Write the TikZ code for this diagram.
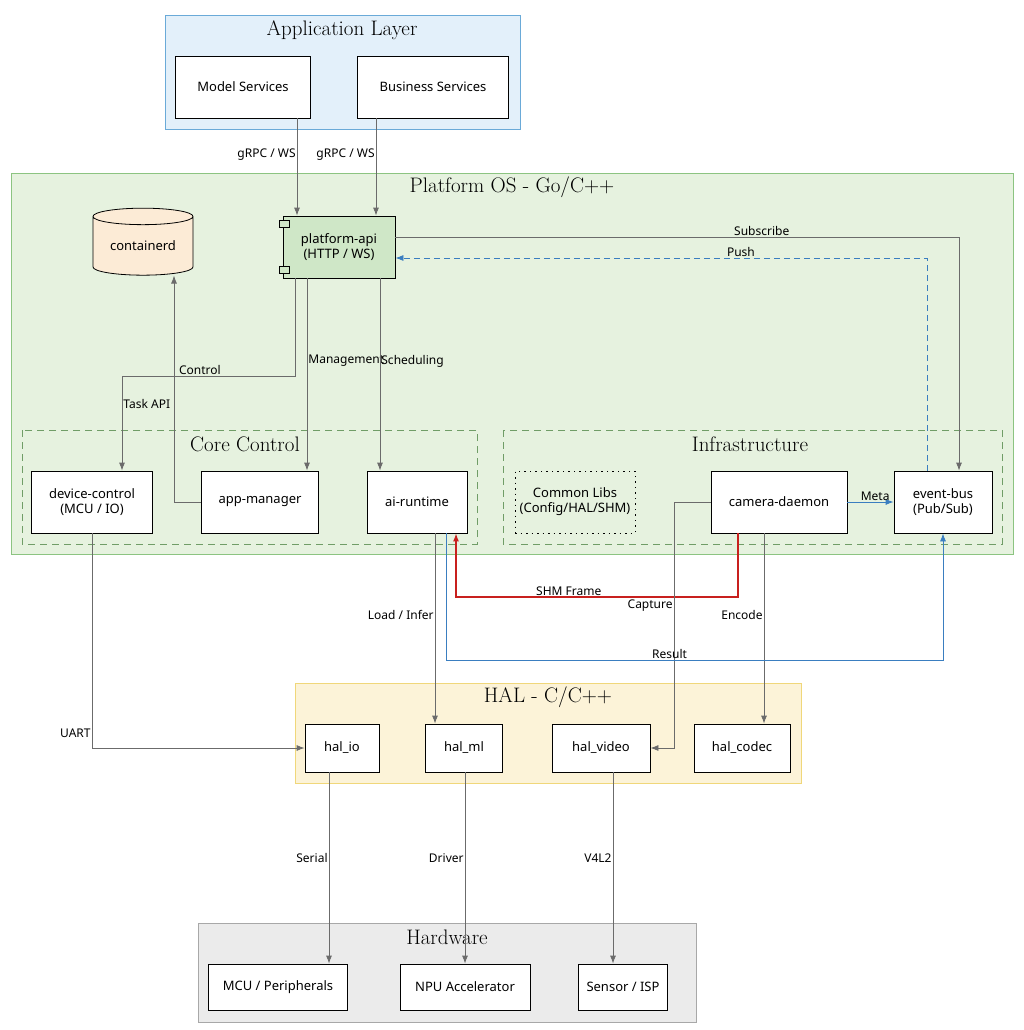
\documentclass[tikz,border=0pt]{standalone}
\usepackage{fontspec}
\setsansfont{Noto Sans}
\usetikzlibrary{arrows.meta,shapes.geometric}
\definecolor{appfill}{HTML}{E3F0FA}
\definecolor{appline}{HTML}{6AAAD8}
\definecolor{osfill}{HTML}{E6F2DF}
\definecolor{osline}{HTML}{8CC481}
\definecolor{halfill}{HTML}{FCF3D8}
\definecolor{halline}{HTML}{F0D77A}
\definecolor{hwfill}{HTML}{EBEBEB}
\definecolor{hwline}{HTML}{A8A8A8}
\definecolor{apifill}{HTML}{CFE7C7}
\definecolor{dbfill}{HTML}{FCEBD6}
\definecolor{flow}{HTML}{6B6B6B}
\definecolor{res}{HTML}{3A7EC0}
\definecolor{shm}{HTML}{C8201E}
\begin{document}
\begin{tikzpicture}[x=1pt,y=-1pt,
  box/.style={draw,fill=white,thick,align=center,font=\sffamily\fontsize{13}{15}\selectfont,inner sep=0pt},
  layer/.style={draw,thick},
  group/.style={draw=osline!80!black,thick,dash pattern=on 7pt off 5pt},
  title/.style={font=\fontsize{21}{24}\selectfont},
  arr/.style={draw=flow,thick,-{Latex[length=8pt,width=6pt]}},
  lbl/.style={font=\sffamily\fontsize{12}{14}\selectfont,inner sep=1pt}]
\useasboundingbox (0,0) rectangle (1024,1030);
%layers
\draw[layer,fill=appfill,draw=appline] (165,15) rectangle (520,129);
\node[title] (tapp) at (342,30) {Application Layer};
\draw[layer,fill=osfill,draw=osline] (11,173) rectangle (1013,554);
\node[title] (tos) at (512,187) {Platform OS - Go/C++};
\draw[group] (22,430) rectangle (477,544);
\node[title] (tcore) at (245,444) {Core Control};
\draw[group] (503,430) rectangle (1002,544);
\node[title] (tinfra) at (750,444) {Infrastructure};
\draw[layer,fill=halfill,draw=halline] (295,683) rectangle (801,783);
\node[title] (thal) at (548,697) {HAL - C/C++};
\draw[layer,fill=hwfill,draw=hwline] (198,923) rectangle (696,1022);
\node[title] (thw) at (447,937) {Hardware};

%nodes
\node[box,minimum width=135,minimum height=62] (ms) at (243,87) {Model Services};
\node[box,minimum width=151,minimum height=62] (bs) at (433,87) {Business Services};
\node[box,shape=cylinder,shape border rotate=90,aspect=0.25,fill=dbfill,minimum width=100,minimum height=67] (ctd) at (143,246) {containerd};
\node[box,fill=apifill,minimum width=112,minimum height=62] (api) at (339,247) {platform-api\\(HTTP / WS)};
\draw[thick,fill=apifill] (279,220) rectangle (289,227) (279,266) rectangle (289,273);
\node[box,minimum width=121,minimum height=62] (dev) at (92,502) {device-control\\(MCU / IO)};
\node[box,minimum width=117,minimum height=62] (app) at (260,502) {app-manager};
\node[box,minimum width=100,minimum height=62] (ai) at (417,502) {ai-runtime};
\node[box,fill=none,dash pattern=on 1.5pt off 4pt,minimum width=120,minimum height=62] (lib) at (575,502) {Common Libs\\(Config/HAL/SHM)};
\node[box,minimum width=136,minimum height=62] (cam) at (779,502) {camera-daemon};
\node[box,minimum width=98,minimum height=62] (bus) at (943,502) {event-bus\\(Pub/Sub)};
\node[box,minimum width=74,minimum height=48] (hio) at (342,748) {hal\_io};
\node[box,minimum width=77,minimum height=48] (hml) at (464,748) {hal\_ml};
\node[box,minimum width=98,minimum height=48] (hvid) at (601,748) {hal\_video};
\node[box,minimum width=96,minimum height=48] (hcod) at (742,748) {hal\_codec};
\node[box,minimum width=139,minimum height=46] (mcu) at (278,987) {MCU / Peripherals};
\node[box,minimum width=130,minimum height=46] (npu) at (465,987) {NPU Accelerator};
\node[box,minimum width=89,minimum height=46] (isp) at (623,987) {Sensor / ISP};

%connectors
\draw[arr] (297,0 |- ms.south) -- node[lbl,left,pos=0.37]{gRPC / WS} (297,0 |- api.north);
\draw[arr] (376,0 |- bs.south) -- node[lbl,left,pos=0.37]{gRPC / WS} (376,0 |- api.north);
\draw[arr] (api.east |- 0,237) -- node[lbl,above,pos=0.65]{Subscribe} (959,237) -- (959,0 |- bus.north);
\draw[draw=res,thick,dash pattern=on 6pt off 4pt,-{Latex[length=8pt,width=6pt]}] (927,0 |- bus.north) -- (927,258) -- node[lbl,above,pos=0.35]{Push} (api.east |- 0,258);
\draw[arr] (295,0 |- api.south) -- (295,376) -- node[lbl,above,pos=0.55]{Control} (122,376) -- node[lbl,right,pos=0.3]{Task API} (122,0 |- dev.north);
\draw[arr] (307,0 |- api.south) -- node[lbl,right,pos=0.43]{Management} (307,0 |- app.north);
\draw[arr] (380,0 |- api.south) -- node[lbl,right,pos=0.43]{Scheduling} (380,0 |- ai.north);
\draw[arr] (app.west) -- (174,502) -- (174,0 |- ctd.south);
\draw[draw=shm,very thick,-{Latex[length=8pt,width=6pt]}] (738,0 |- cam.south) -- (738,597) -- node[lbl,above,pos=0.6]{SHM Frame} (456,597) -- (456,0 |- ai.south);
\draw[arr] (cam.west) -- (674,502) -- node[lbl,left,pos=0.42]{Capture} (674,748) -- (hvid.east);
\draw[arr] (764,0 |- cam.south) -- node[lbl,left,pos=0.43]{Encode} (764,0 |- hcod.north);
\draw[draw=res,thick,-{Latex[length=8pt,width=6pt]}] (cam.east) -- node[lbl,above,pos=0.6]{Meta} (bus.west);
\draw[draw=res,thick,-{Latex[length=8pt,width=6pt]}] (446,0 |- ai.south) -- (446,660) -- node[lbl,above,pos=0.45]{Result} (943,660) -- (bus.south);
\draw[arr] (435,0 |- ai.south) -- node[lbl,left,pos=0.43]{Load / Infer} (435,0 |- hml.north);
\draw[arr] (dev.south) -- node[lbl,left,pos=0.93]{UART} (92,748) -- (hio.west);
\draw[arr] (329,0 |- hio.south) -- node[lbl,left,pos=0.45]{Serial} (329,0 |- mcu.north);
\draw[arr] (465,0 |- hml.south) -- node[lbl,left,pos=0.45]{Driver} (465,0 |- npu.north);
\draw[arr] (613,0 |- hvid.south) -- node[lbl,left,pos=0.45]{V4L2} (613,0 |- isp.north);
\end{tikzpicture}
\end{document}
